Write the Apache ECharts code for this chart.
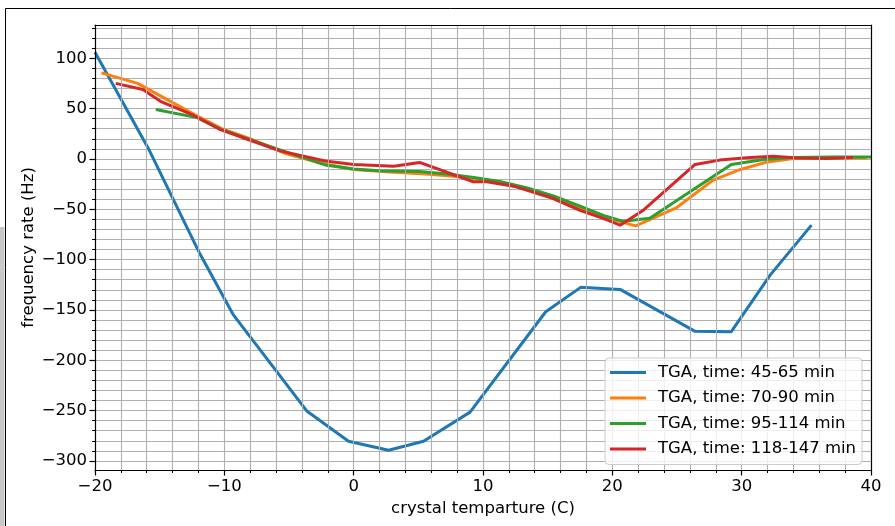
<!DOCTYPE html>
<html><head><meta charset="utf-8">
<script src="https://cdn.jsdelivr.net/npm/echarts@6/dist/echarts.min.js"></script>
<style>html,body{margin:0;padding:0;background:#fff}#c{width:895px;height:526px}</style>
</head><body><div id="c"></div>
<script>
const seriesNames = ['TGA, time: 45-65 min','TGA, time: 70-90 min','TGA, time: 95-114 min','TGA, time: 118-147 min'];
const seriesColors = ['#1f77b4','#ff7f0e','#2ca02c','#d62728'];

const temp45 = [-20, -15.8, -11.9, -9.3, -3.6, -0.4, 2.7, 5.4, 9.0, 14.85, 17.55, 20.6, 26.4, 29.2, 32.2, 35.4];
const rate45 = [106, 8.5, -94, -155, -250.7, -280.5, -289.4, -280.5, -251.5, -151.8, -127.6, -129.6, -171.3, -171.6, -115.4, -65.8];

const temp70 = [-19.5, -16.7, -12.3, -10.2, -7.8, -5.2, -2.4, 0, 2.8, 5.6, 8.4, 11.2, 14.2, 17.0, 19.7, 21.8, 24.9, 27.8, 29.9, 32.0, 34.0, 37.0, 39.7];
const rate70 = [85.4, 75, 44, 30, 19, 5, -4.5, -10.5, -13, -15, -18, -23, -33, -46, -59, -66.5, -49, -21, -10.5, -3, 0.4, 1, 1];

const temp95 = [-15.3, -12.1, -10.3, -8.0, -4.9, -2.2, 0, 2.0, 5.1, 7.2, 9.3, 11.3, 13.5, 15.5, 17.5, 19.5, 20.85, 22.9, 29.2, 31.7, 34.0, 37.0, 40.0];
const rate95 = [49, 41, 29.5, 19, 5.5, -6, -10, -11.8, -12.5, -15, -18.5, -22.5, -29, -37, -47, -57, -62, -59, -5.5, -0.6, 1.4, 2, 2];

const temp118 = [-18.4, -16.3, -14.85, -12.4, -10.3, -8.0, -5.7, -2.2, 0, 3.1, 5.1, 9.25, 10.3, 12.5, 15.2, 17.5, 19.5, 20.6, 22.4, 26.4, 28.3, 30.4, 32.45, 34.3, 36.6, 38.6];
const rate118 = [75, 69, 56.6, 43.4, 29, 18.5, 8, -2, -5.5, -7.2, -3.5, -22.7, -22.7, -27.5, -38.3, -51, -60, -65.8, -50.9, -5.5, -1.2, 1.1, 2.7, 1, 0.4, 1.4];

const temps = [temp45, temp70, temp95, temp118];
const rates = [rate45, rate70, rate95, rate118];

const X_MIN = -20, X_MAX = 40, X_STEP = 10;
const Y_MIN = -309, Y_MAX = 133;

const FONT = 'DejaVu Sans';
const FS = 16.5;
const W = 895, H = 526;
const G = {left: 95, right: 24, top: 25, bottom: 56};
const plotH = H - G.top - G.bottom;
const k = plotH / (Y_MAX - Y_MIN);
function subGrid(lo, hi) {
  return {left: G.left, right: G.right, top: G.top + (Y_MAX - hi) * k, height: (hi - lo) * k};
}
const minus = v => String(v).replace('-', '\u2212');
const gridLine = {show: true, lineStyle: {color: '#b0b0b0', width: 1.1}};
const frameLine = {show: true, onZero: false, lineStyle: {color: '#000', width: 1.2}};
const noLine = {show: false, onZero: false};

const chart = echarts.init(document.getElementById('c'), null, {renderer: 'canvas'});
chart.setOption({
  animation: false,
  backgroundColor: '#fff',
  textStyle: {fontFamily: FONT},
  graphic: [
    {type: 'rect', silent: true, z: 0, shape: {x: 0, y: 227, width: 4.5, height: 300}, style: {fill: '#c8c8c8'}},
    {type: 'rect', silent: true, z: 0, shape: {x: 5.5, y: 8.5, width: 900, height: 600}, style: {fill: 'none', stroke: '#000', lineWidth: 1}}
  ],
  grid: [
    {left: G.left, right: G.right, top: G.top, bottom: G.bottom},
    subGrid(-300, 130),
    subGrid(-300, 100)
  ],
  xAxis: [
    {gridIndex: 0, type: 'value', position: 'bottom', min: X_MIN, max: X_MAX, interval: X_STEP, z: 3,
     axisLine: frameLine,
     axisTick: {show: true, inside: false, length: 5.5, lineStyle: {color: '#000', width: 1.2}},
     minorTick: {show: true, splitNumber: 5, length: 3, lineStyle: {color: '#000', width: 1}},
     splitLine: Object.assign({showMinLine: false, showMaxLine: false}, gridLine),
     minorSplitLine: gridLine,
     axisLabel: {fontFamily: FONT, fontSize: FS, color: '#000', margin: 8, formatter: minus},
     name: 'crystal temparture (C)', nameLocation: 'middle', nameGap: 27,
     nameTextStyle: {fontFamily: FONT, fontSize: FS, color: '#000'}},
    {gridIndex: 0, type: 'value', position: 'top', min: X_MIN, max: X_MAX, z: 3,
     axisLine: frameLine, axisTick: {show: false}, axisLabel: {show: false}, splitLine: {show: false}},
    {gridIndex: 1, type: 'value', show: false, min: X_MIN, max: X_MAX, axisLine: noLine},
    {gridIndex: 2, type: 'value', show: false, min: X_MIN, max: X_MAX, axisLine: noLine}
  ],
  yAxis: [
    {gridIndex: 0, type: 'value', position: 'left', min: Y_MIN, max: Y_MAX, z: 3,
     axisLine: frameLine, axisTick: {show: false}, axisLabel: {show: false}, splitLine: {show: false},
     name: 'frequency rate (Hz)', nameLocation: 'middle', nameGap: 58, nameRotate: 90,
     nameTextStyle: {fontFamily: FONT, fontSize: FS, color: '#000'}},
    {gridIndex: 0, type: 'value', position: 'right', min: Y_MIN, max: Y_MAX, z: 3,
     axisLine: frameLine, axisTick: {show: false}, axisLabel: {show: false}, splitLine: {show: false}},
    {gridIndex: 1, type: 'value', position: 'left', min: -300, max: 130, interval: 10,
     axisLine: noLine,
     axisTick: {show: true, length: 3, lineStyle: {color: '#000', width: 1}},
     axisLabel: {show: false},
     splitLine: gridLine},
    {gridIndex: 2, type: 'value', position: 'left', min: -300, max: 100, interval: 50, z: 3,
     axisLine: noLine,
     axisTick: {show: true, length: 5.5, lineStyle: {color: '#000', width: 1.2}},
     axisLabel: {fontFamily: FONT, fontSize: FS, color: '#000', margin: 8, formatter: minus},
     splitLine: {show: false}}
  ],
  legend: {
    orient: 'vertical', left: 605, top: 358,
    data: seriesNames, icon: 'rect', itemWidth: 36, itemHeight: 3, itemGap: 8.5,
    padding: [6, 6, 7, 5],
    backgroundColor: 'rgba(255,255,255,0.8)', borderColor: '#cccccc', borderWidth: 1, borderRadius: 4,
    textStyle: {fontFamily: FONT, fontSize: FS, color: '#000', padding: [0, 0, 0, 7]},
    z: 10
  },
  series: seriesNames.map((name, i) => ({
    name: name, type: 'line', xAxisIndex: 0, yAxisIndex: 0,
    data: temps[i].map((t, j) => [t, rates[i][j]]),
    showSymbol: false, symbol: 'none',
    lineStyle: {color: seriesColors[i], width: 3},
    itemStyle: {color: seriesColors[i]},
    z: 2
  }))
});
</script></body></html>
